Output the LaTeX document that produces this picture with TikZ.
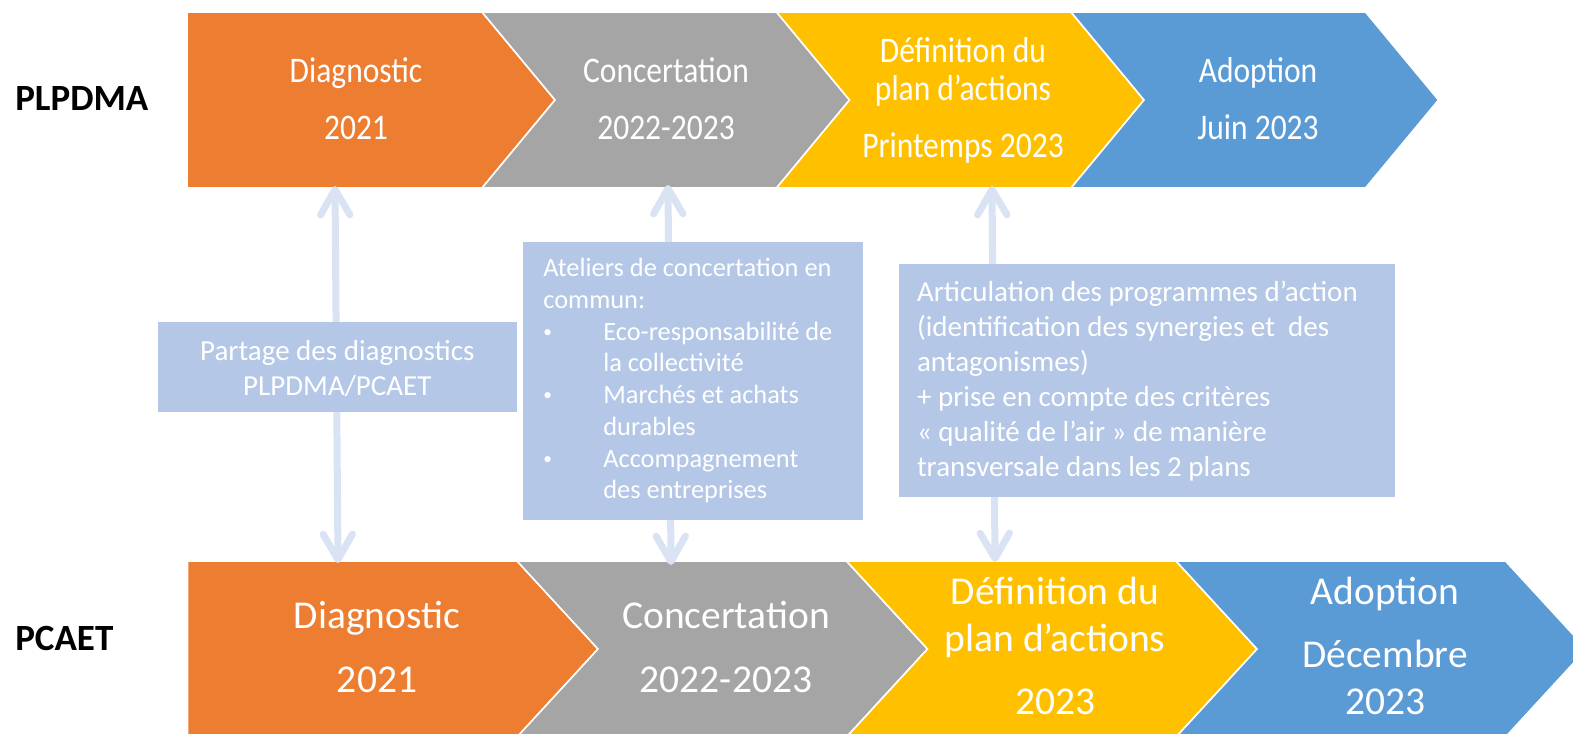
\documentclass[tikz,border=0pt]{standalone}
\usepackage{fontspec}
\setmainfont{Carlito}
\newfontfamily\narrowfont[FakeStretch=0.875]{Carlito}
\usetikzlibrary{arrows.meta}

\definecolor{diagorange}{HTML}{ED7D31}
\definecolor{concgray}{HTML}{A5A5A5}
\definecolor{defyellow}{HTML}{FFC000}
\definecolor{adopblue}{HTML}{5B9BD5}
\definecolor{noteblue}{HTML}{B4C7E7}
\definecolor{linkblue}{HTML}{DAE3F3}

\makeatletter
\newcommand\firstline{\rule{0pt}{\f@size pt}}
\makeatother
\newcommand\toprowfont{\narrowfont\fontsize{27pt}{28.3pt}\selectfont}
\newcommand\botrowfont{\fontsize{29.6pt}{35.25pt}\selectfont}
\newcommand\notefont{\fontsize{21.75pt}{26.25pt}\selectfont}
\newcommand\smallnotefont{\fontsize{19.8pt}{23.8pt}\selectfont}
\newcommand\planfont{\bfseries\fontsize{27.75pt}{33pt}\selectfont}
\newcommand\notebullet{\makebox[45pt][l]{\raisebox{2.2pt}{\fontsize{13pt}{13pt}\selectfont •}}}

\begin{document}
\begin{tikzpicture}[%
    x=0.75pt, y=-0.75pt,
    >={Straight Barb[length=19pt,width=22pt,round]},
    stage/.style={draw=white, line width=1.2pt},
    stagetext/.style={%
      anchor=north,
      inner sep=0pt,
      outer sep=0pt,
      align=center,
      text=white},
    link/.style={<->, draw=linkblue, line width=5.25pt},
    note/.style={fill=noteblue, inner sep=0pt, outer sep=0pt},
    notetext/.style={inner sep=0pt, outer sep=0pt, text=white}
    ]
    \useasboundingbox (0,0) rectangle (1573,733);
    \clip (0,0) rectangle (1573,733);

    % PLPDMA row
    \filldraw[stage, fill=diagorange] (187,12) -- (482,12) -- ++(73,88) -- ++(-73,88) -- (187,188) -- cycle;
    \foreach \x/\c in {482/concgray, 776.5/defyellow, 1071/adopblue}
      \filldraw[stage, fill=\c] (\x,12) -- ++(294.5,0) -- ++(73,88) -- ++(-73,88) -- ++(-294.5,0) -- ++(73,-88) -- cycle;

    % PCAET row
    \filldraw[stage, fill=diagorange] (187.5,561) -- (517,561) -- ++(81,88) -- ++(-81,88) -- (187.5,737) -- cycle;
    \foreach \x/\c in {517/concgray, 846.5/defyellow, 1176/adopblue}
      \filldraw[stage, fill=\c] (\x,561) -- ++(329.5,0) -- ++(81,88) -- ++(-81,88) -- ++(-329.5,0) -- ++(81,-88) -- cycle;

    \node[anchor=base west, inner sep=0pt, font=\planfont] (plpdma) at (15,110) {PLPDMA};
    \node[anchor=base west, inner sep=0pt, font=\planfont] (pcaet) at (15,650) {PCAET};

    \node[stagetext, font=\toprowfont] (d1) at (356,46.7) {\firstline Diagnostic\\[14.5pt]2021};
    \node[stagetext, font=\toprowfont] (c1) at (666,46.7) {\firstline Concertation\\[14.5pt]2022-2023};
    \node[stagetext, font=\toprowfont] (p1) at (963,26.3) {\firstline Définition du\\plan d’actions\\[15pt]Printemps 2023};
    \node[stagetext, font=\toprowfont] (a1) at (1258,46.7) {\firstline Adoption\\[14.5pt]Juin 2023};

    \node[stagetext, font=\botrowfont] (d2) at (377,588.8) {\firstline Diagnostic\\[13pt]2021};
    \node[stagetext, font=\botrowfont] (c2) at (726,588.8) {\firstline Concertation\\[13pt]2022-2023};
    \node[stagetext, font=\botrowfont] (p2) at (1055,565.5) {\firstline Définition du\\plan d’actions\\[12pt]2023};
    \node[stagetext, font=\botrowfont] (a2) at (1385,565.5) {\firstline Adoption\\[12pt]Décembre\\2023};

    \coordinate (d1end) at (335,186);
    \coordinate (d2end) at (338,563);
    \coordinate (c1end) at (668,185);
    \coordinate (c2end) at (671,565);
    \coordinate (p1end) at (992,186);
    \coordinate (p2end) at (995,562);
    \draw[link] (d1end) -- (d2end);
    \draw[link] (c1end) -- (c2end);
    \draw[link] (p1end) -- (p2end);

    \node[note, minimum width=269pt, minimum height=67.5pt] (share) at (337.35,367.3) {};
    \node[notetext, anchor=north, align=center, font=\notefont] (sharetext)
      at ([shift={(0,8.7)}]share.north) {\firstline Partage des diagnostics\\PLPDMA/PCAET};

    \node[note, minimum width=255pt, minimum height=208.5pt] (workshop) at (692.7,381) {};
    \node[notetext, anchor=north west, align=left, font=\smallnotefont] (workshoptext)
      at ([shift={(20.6,8.3)}]workshop.north west) {\firstline Ateliers de concertation en\\commun:\\
      \notebullet Eco-responsabilité de\\\hspace*{45pt}la collectivité\\
      \notebullet Marchés et achats\\\hspace*{45pt}durables\\
      \notebullet Accompagnement\\\hspace*{45pt}des entreprises};

    \node[note, minimum width=371.6pt, minimum height=174.5pt] (link) at (1146.75,380.35) {};
    \node[notetext, anchor=north west, align=left, font=\notefont] (linktext)
      at ([shift={(18,8.7)}]link.north west) {\firstline Articulation des programmes d’action\\
      (identification des synergies et~ des\\antagonismes)\\
      + prise en compte des critères\\« qualité de l’air » de manière\\
      transversale dans les 2 plans};
  \end{tikzpicture}
\end{document}
